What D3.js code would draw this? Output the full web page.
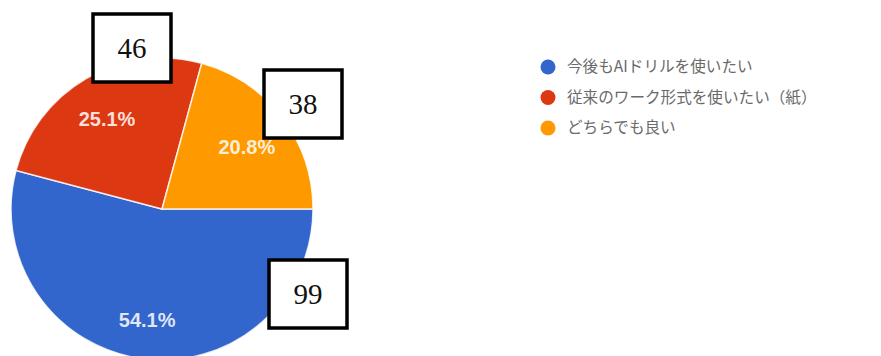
<!DOCTYPE html>
<html>
<head>
<meta charset="utf-8">
<script src="https://cdn.jsdelivr.net/npm/d3@7"></script>
<style>
  html, body { margin: 0; padding: 0; background: #fff; }
  svg { display: block; }
</style>
</head>
<body>
<div id="chart"></div>
<script>
// データ
const categories = ["今後もAIドリルを使いたい", "従来のワーク形式を使いたい（紙）", "どちらでも良い"];
const counts = [99, 46, 38];
const colors = ["#3366cc", "#dc3912", "#ff9900"];

// 注記ボックスの位置（円の中心からのずれ）
const boxOffsets = [[146, 85], [-30, -161], [141, -105]];

const W = 881, H = 356;
const cx = 162, cy = 209, r = 151;

const svg = d3.select("#chart").append("svg")
    .attr("width", W)
    .attr("height", H);

const total = d3.sum(counts);
const items = counts.map((v, i) => ({ name: categories[i], value: v, color: colors[i], i }));

// 3時の位置から時計回り
const pie = d3.pie()
    .value(d => d.value)
    .sort(null)
    .startAngle(Math.PI / 2)
    .endAngle(Math.PI / 2 + 2 * Math.PI);

const arcs = pie(items);
const arc = d3.arc().innerRadius(0).outerRadius(r);
const labelArc = d3.arc().innerRadius(108).outerRadius(108);

const g = svg.append("g").attr("transform", `translate(${cx},${cy})`);

g.selectAll("path")
    .data(arcs)
    .join("path")
    .attr("d", arc)
    .attr("fill", d => d.data.color)
    .attr("stroke", "#fff")
    .attr("stroke-width", 1.5)
    .attr("stroke-opacity", 0.8);

// パーセント表示
g.selectAll("text.pct")
    .data(arcs)
    .join("text")
    .attr("class", "pct")
    .attr("transform", d => {
        const [x, y] = labelArc.centroid(d);
        return `translate(${x - 1},${y + 4})`;
    })
    .attr("text-anchor", "middle")
    .attr("dominant-baseline", "central")
    .attr("fill", "#fff")
    .attr("fill-opacity", 0.85)
    .style("font-family", "Liberation Sans, Arial, sans-serif")
    .style("font-weight", "bold")
    .style("font-size", "20px")
    .text(d => (d.data.value / total * 100).toFixed(1) + "%");

// 凡例
const legend = svg.append("g").attr("transform", "translate(548,67)");
const li = legend.selectAll("g")
    .data(items)
    .join("g")
    .attr("transform", (d, i) => `translate(0,${i * 30.5})`);

li.append("circle")
    .attr("r", 7.5)
    .attr("fill", d => d.color);

li.append("text")
    .attr("x", 19)
    .attr("dy", "0.35em")
    .attr("fill", "#6a6a6a")
    .style("font-family", "Noto Sans CJK JP, sans-serif")
    .style("font-size", "15.6px")
    .text(d => d.name);

// 件数ボックス
const boxes = svg.selectAll("g.box")
    .data(items)
    .join("g")
    .attr("class", "box")
    .attr("transform", d => `translate(${cx + boxOffsets[d.i][0]},${cy + boxOffsets[d.i][1]})`);

boxes.append("rect")
    .attr("x", -39)
    .attr("y", -34)
    .attr("width", 78)
    .attr("height", 68)
    .attr("fill", "#fff")
    .attr("stroke", "#000")
    .attr("stroke-width", 3.5);

boxes.append("text")
    .attr("text-anchor", "middle")
    .attr("dominant-baseline", "central")
    .attr("fill", "#111")
    .style("font-family", "Liberation Serif, serif")
    .style("font-size", "29px")
    .text(d => d.value);
</script>
</body>
</html>
